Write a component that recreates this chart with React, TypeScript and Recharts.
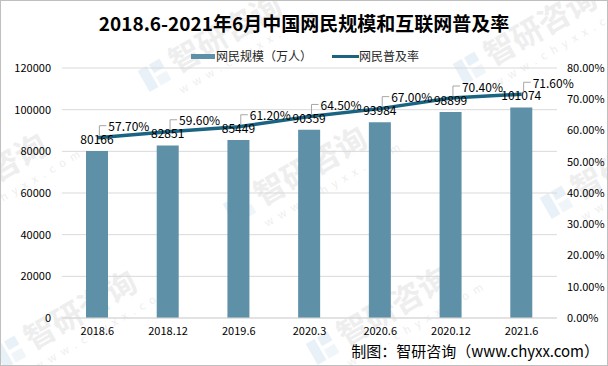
import {
  ComposedChart, Bar, Line, XAxis, YAxis, CartesianGrid, LabelList,
} from 'recharts'

const categories  = ['2018.6', '2018.12', '2019.6', '2020.3', '2020.6', '2020.12', '2021.6']
const netizens    = [80166, 82851, 85449, 90359, 93984, 98899, 101074]
const penetration = [57.7, 59.6, 61.2, 64.5, 67.0, 70.4, 71.6]
const leftTicks   = [0, 20000, 40000, 60000, 80000, 100000, 120000]
const rightTicks  = [0, 10, 20, 30, 40, 50, 60, 70, 80]

const BAR_COLOR  = '#5E90A8'
const LINE_COLOR = '#1A6482'
const FONT = '"Noto Sans CJK SC", "Noto Sans", sans-serif'

const chartData = categories.map((c, i) => ({ cat: c, users: netizens[i], rate: penetration[i] }))

// percentage label with the little leader line, up-right of the point
const RateLabel = (props: any) => {
  const { x, y, value } = props
  if (x == null || y == null) return null
  const ly = y - 12
  return (
    <g>
      <polyline points={`${x + 2},${y - 2} ${x + 2},${ly} ${x + 9},${ly}`} stroke="#A6A6A6" strokeWidth={1} fill="none" />
      <text x={x + 11} y={ly} dominantBaseline="central" fontSize={12} fill="#000" fontFamily={FONT}>
        {Number(value).toFixed(2)}%
      </text>
    </g>
  )
}

// faint site watermark
const Mark = ({ x, y }: { x: number; y: number }) => (
  <g transform={`translate(${x},${y}) rotate(-30)`} opacity={0.3}>
    <rect x={-13} y={-12} width={10} height={24} fill="#B9D2EA" />
    <rect x={0} y={-12} width={12} height={10} fill="#B9D2EA" />
    <rect x={0} y={2} width={12} height={10} fill="#CFE0F0" />
    <text x={20} y={10} fontSize={31} fontWeight="bold" fill="#C8C8C8" fontFamily={FONT}>智研咨询</text>
    <text x={14} y={30} fontSize={11} fill="#C8C8C8" letterSpacing={6} fontFamily={FONT}>www.chyxx.com</text>
  </g>
)

export default function App() {
  return (
    <div style={{ position: 'fixed', left: 0, top: 0, width: 608, height: 366, background: '#fff',
      boxSizing: 'border-box', border: '1px solid #BFBFBF', fontFamily: FONT, overflow: 'hidden' }}>
      <svg width={608} height={366} style={{ position: 'absolute', left: -1, top: -1 }}>
        <Mark x={155} y={75} />
        <Mark x={470} y={68} />
        <Mark x={-80} y={215} />
        <Mark x={240} y={208} />
        <Mark x={557} y={202} />
        <Mark x={10} y={352} />
        <Mark x={323} y={348} />
      </svg>
      <div style={{ position: 'absolute', left: -1, top: 10, width: 608, textAlign: 'center',
        fontSize: 19, fontWeight: 'bold', color: '#000', lineHeight: '24px' }}>
        2018.6-2021年6月中国网民规模和互联网普及率
      </div>
      <div style={{ position: 'absolute', top: 46, left: 190, display: 'flex', alignItems: 'center',
        fontSize: 12, color: '#262626', lineHeight: '18px' }}>
        <span style={{ display: 'inline-block', width: 24, height: 5, background: BAR_COLOR }} />
        <span style={{ marginLeft: 1 }}>网民规模（万人）</span>
        <span style={{ display: 'inline-block', width: 27, height: 3, background: LINE_COLOR, marginLeft: 20 }} />
        <span>网民普及率</span>
      </div>
      <div style={{ position: 'absolute', left: -1, top: -1 }}>
        <ComposedChart width={608} height={366} data={chartData}
          margin={{ top: 68, right: 0, bottom: 18, left: 0 }}>
          <CartesianGrid vertical={false} stroke="#D9D9D9" yAxisId="left" />
          <XAxis dataKey="cat" tickSize={0} tickMargin={9} height={30}
            axisLine={{ stroke: '#D9D9D9' }}
            tick={{ fontSize: 11, fill: '#000', fontFamily: FONT }} />
          <YAxis yAxisId="left" width={62} domain={[0, 120000]} ticks={leftTicks}
            axisLine={false} tickSize={0} tickMargin={11}
            tick={{ fontSize: 11, fill: '#000', fontFamily: FONT }} />
          <YAxis yAxisId="right" orientation="right" width={51} domain={[0, 80]} ticks={rightTicks}
            axisLine={false} tickSize={0} tickMargin={10}
            tickFormatter={(v: number) => `${v.toFixed(2)}%`}
            tick={{ fontSize: 11, fill: '#000', fontFamily: FONT }} />
          <Bar yAxisId="left" dataKey="users" fill={BAR_COLOR} barSize={22} isAnimationActive={false}>
            <LabelList dataKey="users" position="top" offset={7} fontSize={12} fill="#000" fontFamily={FONT} />
          </Bar>
          <Line yAxisId="right" dataKey="rate" type="linear" stroke={LINE_COLOR} strokeWidth={3.5}
            dot={false} isAnimationActive={false}>
            <LabelList dataKey="rate" content={RateLabel} />
          </Line>
        </ComposedChart>
      </div>
      <div style={{ position: 'absolute', right: 8, top: 340, fontSize: 15, color: '#000', lineHeight: '20px' }}>
        制图：智研咨询（www.chyxx.com）
      </div>
    </div>
  )
}
